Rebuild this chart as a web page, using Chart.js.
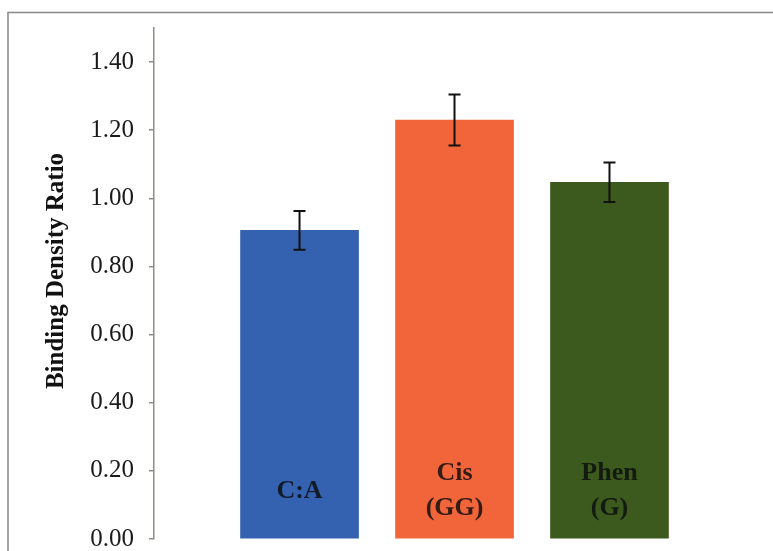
<!DOCTYPE html>
<html>
<head>
<meta charset="utf-8">
<script src="https://cdn.jsdelivr.net/npm/chart.js@4.4.1/dist/chart.umd.min.js"></script>
<style>
  html, body { margin: 0; padding: 0; background: #ffffff; }
  #wrap { width: 773px; height: 551px; position: relative; }
</style>
</head>
<body>
<div id="wrap"><canvas id="c" width="773" height="551"></canvas></div>
<script>
// Binding density ratio per compound, with standard-error bars
const categories = [['C:A'], ['Cis', '(GG)'], ['Phen', '(G)']];
const values = [0.906, 1.230, 1.047];
const errors = [0.057, 0.075, 0.058];
const barColors = ['#3562b0', '#f2653a', '#3d5a1e'];
const yTicks = [0, 0.2, 0.4, 0.6, 0.8, 1.0, 1.2, 1.4];
const yTitle = 'Binding Density Ratio';

const SERIF = '"Liberation Serif", "Times New Roman", serif';

// Outer chart frame (open on the right and bottom edges of the canvas)
const framePlugin = {
  id: 'frame',
  beforeDraw(chart) {
    const ctx = chart.ctx;
    ctx.save();
    ctx.fillStyle = '#ffffff';
    ctx.fillRect(0, 0, chart.width, chart.height);
    ctx.strokeStyle = '#8c8c8a';
    ctx.lineWidth = 1.6;
    ctx.strokeRect(8, 12.5, chart.width + 20, chart.height + 20);
    ctx.restore();
  }
};

// Error bars and in-bar category labels
const overlayPlugin = {
  id: 'overlay',
  afterDatasetsDraw(chart) {
    const ctx = chart.ctx;
    const xs = chart.scales.x, ys = chart.scales.y;
    ctx.save();
    values.forEach((v, i) => {
      const x = xs.getPixelForValue(i + 1);
      const top = ys.getPixelForValue(v + errors[i]);
      const bot = ys.getPixelForValue(v - errors[i]);
      ctx.strokeStyle = '#111111';
      ctx.lineWidth = 2;
      ctx.beginPath();
      ctx.moveTo(x, top); ctx.lineTo(x, bot);
      ctx.moveTo(x - 6, top); ctx.lineTo(x + 6, top);
      ctx.moveTo(x - 6, bot); ctx.lineTo(x + 6, bot);
      ctx.stroke();

      // category name printed inside the bar, near its base
      const lines = categories[i];
      const base = ys.getPixelForValue(0);
      const lh = 35;
      const centerY = base - 48;
      ctx.fillStyle = 'rgba(10,12,14,0.82)';
      ctx.font = 'bold 26px ' + SERIF;
      ctx.textAlign = 'center';
      ctx.textBaseline = 'middle';
      lines.forEach((t, k) => {
        const y = centerY + (k - (lines.length - 1) / 2) * lh;
        ctx.fillText(t, x, y);
      });
    });

    // y-axis title
    ctx.translate(57, 271);
    ctx.rotate(-Math.PI / 2);
    ctx.fillStyle = '#111111';
    ctx.font = 'bold 25px ' + SERIF;
    ctx.textAlign = 'center';
    ctx.textBaseline = 'middle';
    ctx.fillText(yTitle, 0, 0);
    ctx.restore();
  }
};

const chart = new Chart(document.getElementById('c'), {
  type: 'bar',
  data: {
    datasets: [{
      data: values.map((v, i) => ({ x: i + 1, y: v })),
      backgroundColor: barColors,
      borderWidth: 0,
      barThickness: 118
    }]
  },
  options: {
    responsive: false,
    animation: false,
    devicePixelRatio: 1,
    layout: { padding: { left: 0, top: 28, right: 0, bottom: 12 } },
    plugins: {
      legend: { display: false },
      tooltip: { enabled: false },
      title: { display: false }
    },
    scales: {
      x: {
        type: 'linear',
        min: 0.061,
        max: 4.055,
        display: false,
        offset: false
      },
      y: {
        min: 0,
        max: 1.5,
        afterFit(scale) {
          scale.width = 154;
          scale.paddingTop = 0;
          scale.paddingBottom = 0;
        },
        afterBuildTicks(scale) { scale.ticks = yTicks.map(v => ({ value: v })); },
        border: { display: true, color: '#8f8f86', width: 1.5 },
        grid: {
          drawOnChartArea: false,
          drawTicks: true,
          tickLength: 5,
          color: '#8f8f86',
          lineWidth: 1.5
        },
        ticks: {
          padding: 15,
          color: '#1a1a1a',
          font: { family: SERIF, size: 25 },
          callback: v => Number(v).toFixed(2)
        }
      }
    }
  },
  plugins: [framePlugin, overlayPlugin]
});
</script>
</body>
</html>
